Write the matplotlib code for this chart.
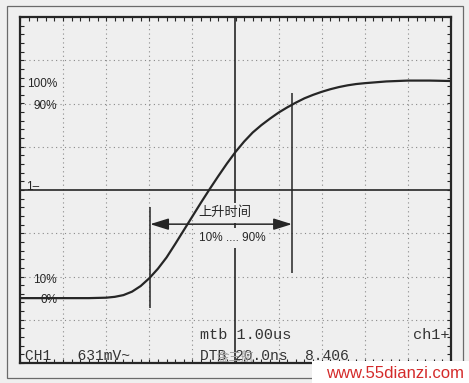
import matplotlib.pyplot as plt
import matplotlib.patches as patches
import numpy as np

# Oszillogramm: Zeit in Teilungen (1 Teilung = 1.00 us), Spannung in Teilungen
zeit = [-5.0, -4.0, -3.4, -3.0, -2.8, -2.6, -2.4, -2.2, -2.0, -1.8, -1.6,
        -1.4, -1.2, -1.0, -0.8, -0.6, -0.4, -0.2, 0.0, 0.2, 0.4, 0.6, 0.8,
        1.0, 1.2, 1.4, 1.6, 1.8, 2.0, 2.2, 2.4, 2.6, 2.8, 3.0, 3.5, 4.0,
        4.5, 5.0]
spannung = [-2.50, -2.50, -2.50, -2.49, -2.47, -2.43, -2.35, -2.22, -2.04,
            -1.82, -1.56, -1.25, -0.93, -0.61, -0.29, 0.02, 0.32, 0.61, 0.88,
            1.12, 1.33, 1.50, 1.65, 1.79, 1.91, 2.02, 2.12, 2.20, 2.27, 2.33,
            2.38, 2.42, 2.45, 2.47, 2.51, 2.53, 2.53, 2.52]

# Messmarken (10% und 90%)
marke_links = -1.98
marke_rechts = 1.31

pegel_text = ['100%', '90%', '10%', '0%']
pegel_y = [2.45, 1.94, -2.08, -2.54]

farbe = '#262626'
hintergrund = '#efefef'

fig = plt.figure(figsize=(4.69, 3.83), dpi=100, facecolor=hintergrund)
ax = fig.add_axes([20 / 469, 20 / 383, 431 / 469, 346 / 383])
ax.set_facecolor(hintergrund)
ax.set_xlim(-5, 5)
ax.set_ylim(-4, 4)

# Rahmen mit kleinen Teilstrichen
for s in ax.spines.values():
    s.set_linewidth(1.6)
    s.set_color(farbe)
ax.set_xticks(np.arange(-5, 5.01, 0.2))
ax.set_yticks(np.arange(-4, 4.01, 0.2))
ax.tick_params(direction='in', length=3, width=0.8, color=farbe,
               top=True, right=True, labelbottom=False, labelleft=False)

# Raster
for i in range(-4, 5):
    if i != 0:
        ax.axvline(i, color='#8a8a8a', lw=0.8, ls=(0, (1, 3)), zorder=1)
for j in range(-3, 4):
    if j != 0:
        ax.axhline(j, color='#8a8a8a', lw=0.8, ls=(0, (1, 3)), zorder=1)
ax.axhline(0, color=farbe, lw=1.2, zorder=2)
ax.axvline(0, color=farbe, lw=1.2, zorder=2)

# Signal
ax.plot(zeit, spannung, color=farbe, lw=1.6, zorder=8)

# Marken und Pfeil
ax.vlines(marke_links, -2.73, -0.39, color=farbe, lw=1.1, zorder=4)
ax.vlines(marke_rechts, -1.92, 2.24, color=farbe, lw=1.1, zorder=4)

ax.text(-0.24, -0.53, '上升时间', ha='center', va='center', fontsize=9.5,
        family=['Noto Sans CJK SC', 'DejaVu Sans'], color=farbe, zorder=6,
        bbox=dict(facecolor=hintergrund, edgecolor='none', pad=2.5))
ax.text(-0.08, -1.11, '10% .... 90%', ha='center', va='center', fontsize=8.5,
        family='Liberation Sans', color=farbe, zorder=6,
        bbox=dict(facecolor=hintergrund, edgecolor='none', pad=3))
ax.annotate('', xy=(marke_links, -0.79), xytext=(marke_rechts, -0.79),
            arrowprops=dict(arrowstyle='<|-|>,head_length=0.8,head_width=0.25',
                            color=farbe, lw=1.1, mutation_scale=14,
                            shrinkA=0, shrinkB=0), zorder=7)

# Pegelbeschriftung
for t, y in zip(pegel_text, pegel_y):
    ax.text(-4.14, y, t, ha='right', va='center', fontsize=8.5,
            family='Liberation Sans', color=farbe, zorder=6)
ax.text(-4.87, 0.08, '1–', ha='left', va='center', fontsize=8.5,
        family='Liberation Sans', color=farbe, zorder=6)

# Statuszeilen
mono = 'Liberation Mono'
ax.text(-0.82, -3.35, 'mtb 1.00us', ha='left', va='center', fontsize=11,
        family=mono, color='#333333', zorder=6)
ax.text(4.97, -3.35, 'ch1+', ha='right', va='center', fontsize=11,
        family=mono, color='#333333', zorder=6)
ax.text(-4.88, -3.84, 'CH1   631mV~', ha='left', va='center', fontsize=10.5,
        family=mono, color='#333333', zorder=6)
ax.text(-0.82, -3.84, 'DTB 20.0ns  8.406', ha='left', va='center', fontsize=10.5,
        family=mono, color='#333333', zorder=6)
ax.text(0.0, -3.87, '金三航', ha='center', va='center', fontsize=9,
        family=['Noto Sans CJK SC', 'DejaVu Sans'], color='#a0a0a0', zorder=7)

# Aeusserer Rahmen und Wasserzeichen
fig.patches.append(patches.Rectangle((7 / 469, 5 / 383), 456 / 469, 372 / 383,
                                     transform=fig.transFigure, fill=False,
                                     edgecolor='#6a6a6a', lw=0.9))
fig.patches.append(patches.Rectangle((312 / 469, 0), 157 / 469, 22 / 383,
                                     transform=fig.transFigure, facecolor='white',
                                     edgecolor='none', zorder=10))
fig.text(464 / 469, 10 / 383, 'www.55dianzi.com', ha='right', va='center',
         fontsize=12, family='Liberation Sans', color='#d42a2a', zorder=11)

fig.savefig('out.png', dpi=100, facecolor=hintergrund)
